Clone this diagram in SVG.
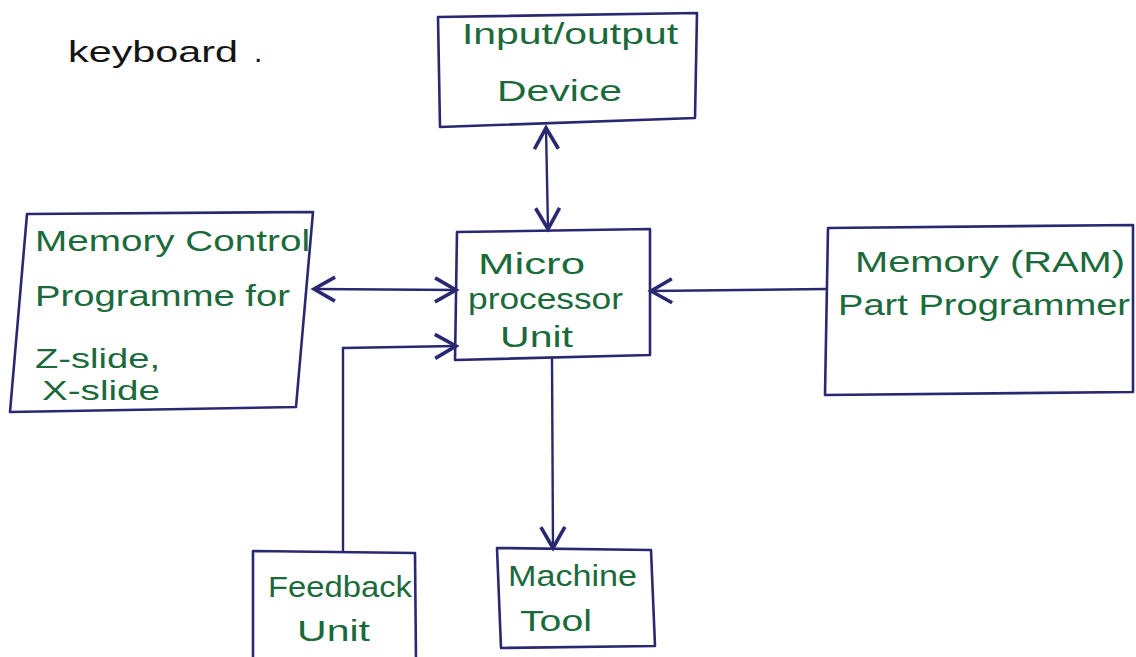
<svg xmlns="http://www.w3.org/2000/svg" width="1136" height="657" viewBox="0 0 1136 657">
<style>
.box{fill:none;stroke:#2a2870;stroke-width:2.6;stroke-linejoin:round}
.con{fill:none;stroke:#2a2870;stroke-width:2.4}
.t{font-family:"Liberation Sans",Arial,sans-serif;font-size:29px;fill:#1b6a3c}
.s{font-size:27px}
.k{font-family:"Liberation Sans",Arial,sans-serif;font-size:30px;fill:#141414}
</style>
<defs>
<marker id="ah" markerUnits="userSpaceOnUse" markerWidth="30" markerHeight="30" viewBox="-16 -10 20 20" refX="0" refY="0" orient="auto-start-reverse">
<path d="M-14,-8 L0,0 L-14,8" fill="none" stroke="#2a2870" stroke-width="2.4"/>
</marker>
</defs>
<rect width="1136" height="657" fill="#ffffff"/>
<text class="k" x="68" y="62" textLength="170" lengthAdjust="spacingAndGlyphs">keyboard</text>
<text class="k" x="254" y="62">.</text>

<g id="io">
<polygon class="box" points="438,17 697,13 695,118 440,127"/>
<text class="t" x="462" y="44" textLength="216" lengthAdjust="spacingAndGlyphs">Input/output</text>
<text class="t" x="497" y="101" textLength="125" lengthAdjust="spacingAndGlyphs">Device</text>
</g>

<g id="memctrl">
<polygon class="box" points="27,214 313,212 296,407 10,412"/>
<text class="t" x="35" y="251" textLength="275" lengthAdjust="spacingAndGlyphs">Memory Control</text>
<text class="t" x="35" y="306" textLength="255" lengthAdjust="spacingAndGlyphs">Programme for</text>
<text class="t s" x="35" y="368" textLength="125" lengthAdjust="spacingAndGlyphs">Z-slide,</text>
<text class="t s" x="42" y="400" textLength="118" lengthAdjust="spacingAndGlyphs">X-slide</text>
</g>

<g id="mpu">
<polygon class="box" points="457,232 650,229 650,355 455,360"/>
<text class="t" x="478" y="274" textLength="107" lengthAdjust="spacingAndGlyphs">Micro</text>
<text class="t" x="468" y="309" textLength="155" lengthAdjust="spacingAndGlyphs">processor</text>
<text class="t" x="500" y="347" textLength="73" lengthAdjust="spacingAndGlyphs">Unit</text>
</g>

<g id="ram">
<polygon class="box" points="828,228 1133,225 1133,392 825,395"/>
<text class="t" x="855" y="272" textLength="270" lengthAdjust="spacingAndGlyphs">Memory (RAM)</text>
<text class="t" x="838" y="315" textLength="292" lengthAdjust="spacingAndGlyphs">Part Programmer</text>
</g>

<g id="feedback">
<polyline class="box" points="253,662 253,551 415,553 416,662"/>
<text class="t" x="268" y="597" textLength="144" lengthAdjust="spacingAndGlyphs">Feedback</text>
<text class="t" x="297" y="641" textLength="73" lengthAdjust="spacingAndGlyphs">Unit</text>
</g>

<g id="machine">
<polygon class="box" points="497,548 651,550 655,646 501,648"/>
<text class="t" x="508" y="586" textLength="129" lengthAdjust="spacingAndGlyphs">Machine</text>
<text class="t" x="520" y="631" textLength="72" lengthAdjust="spacingAndGlyphs">Tool</text>
</g>

<g id="connectors">
<path class="con" d="M546,128 L548,229" marker-start="url(#ah)" marker-end="url(#ah)"/>
<path class="con" d="M314,289 L456,290" marker-start="url(#ah)" marker-end="url(#ah)"/>
<path class="con" d="M826,289 L651,291" marker-end="url(#ah)"/>
<path class="con" d="M343,551 L343,348 L456,346" marker-end="url(#ah)"/>
<path class="con" d="M552,357 L553,548" marker-end="url(#ah)"/>
</g>
</svg>
